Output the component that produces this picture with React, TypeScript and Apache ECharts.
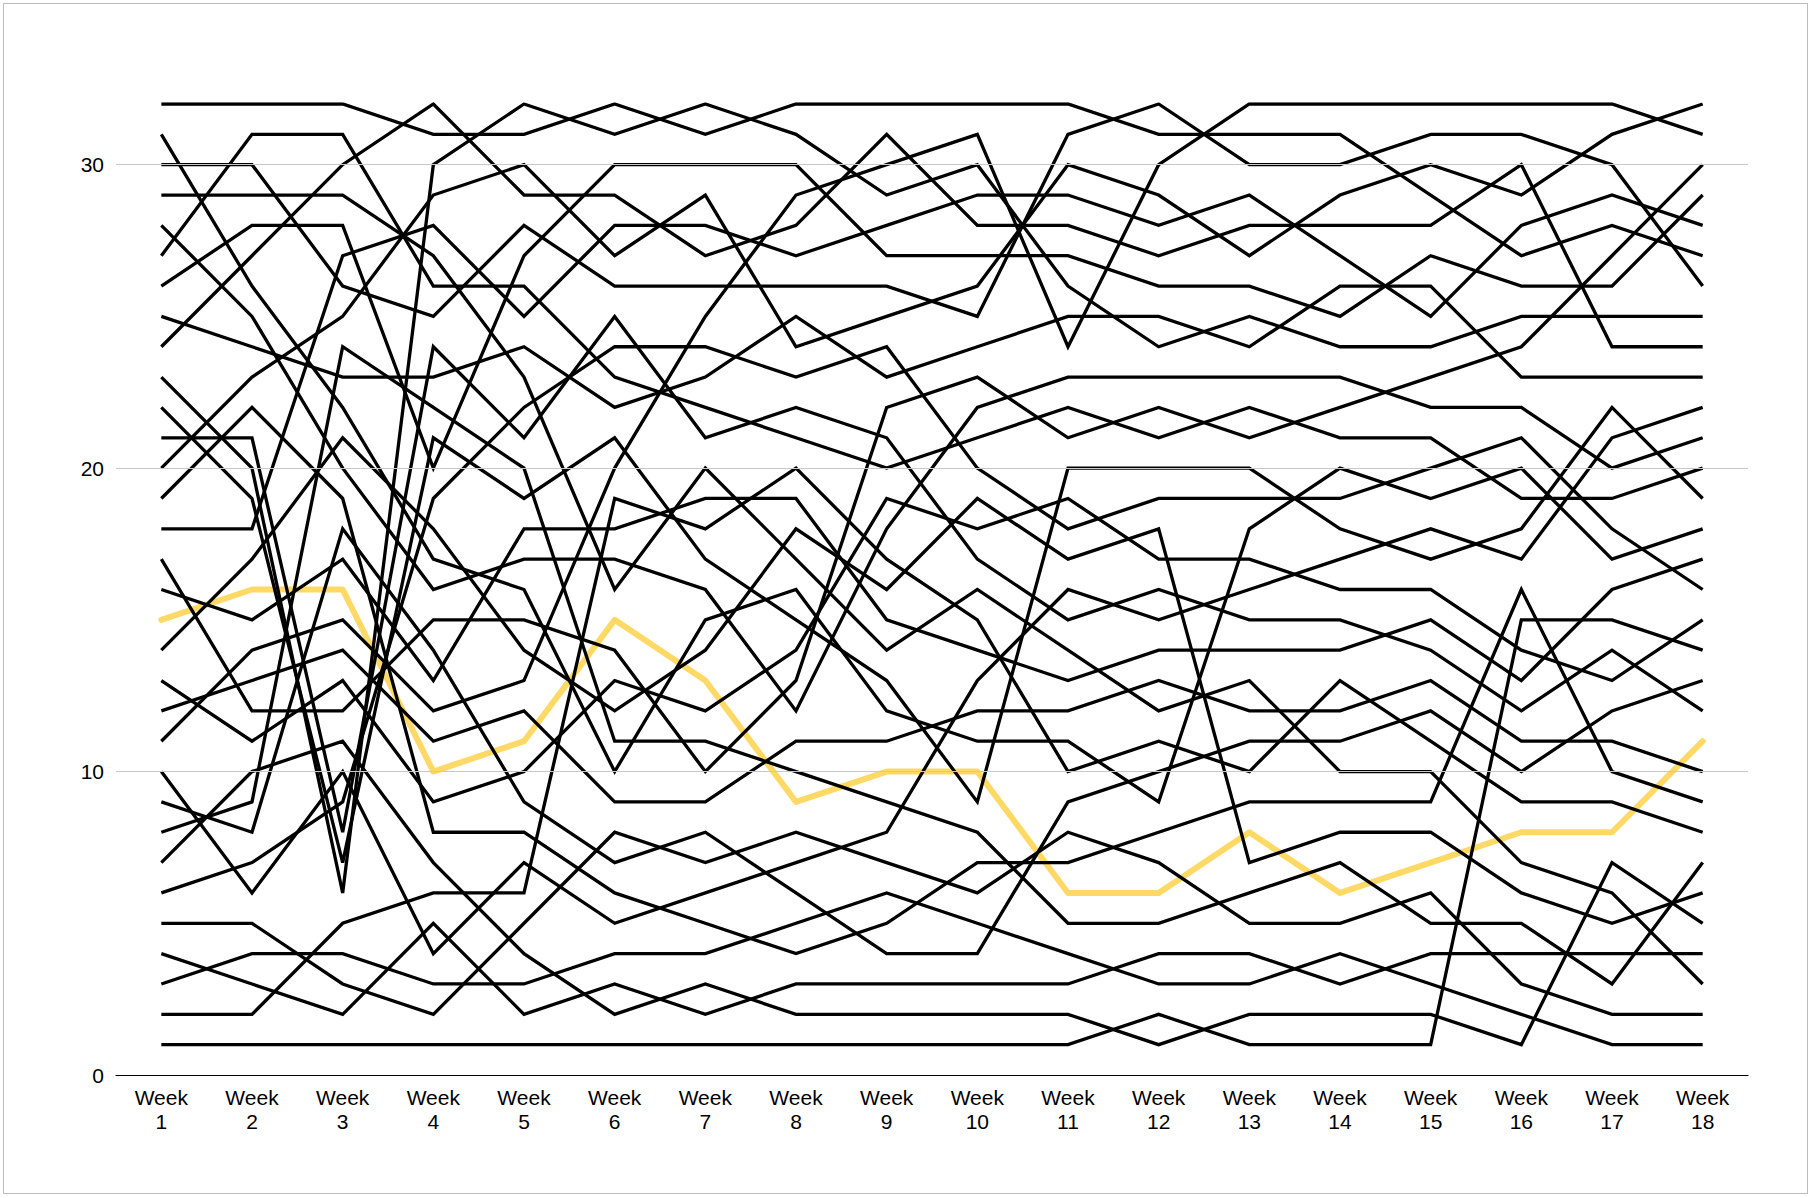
import React, { useEffect, useRef } from "react";
import * as echarts from "echarts";

// Category labels
const weeks: string[] = Array.from({ length: 18 }, (_, i) => `Week\n${i + 1}`);
// Y tick labels
const yTicks: number[] = [0, 10, 20, 30];
// Highlighted (yellow) team is the one ranked 15th in week 1
const highlightStartRank = 15;

// For each pair of consecutive weeks: entry r-1 = rank in the next week of the team ranked r this week.
const week1to2 = [1, 2, 4, 3, 5, 7, 10, 9, 8, 6, 14, 13, 11, 17, 16, 15, 12, 18, 22, 23, 21, 19, 20, 27, 24, 28, 31, 25, 29, 30, 26, 32];
const week2to3 = [1, 5, 2, 4, 3, 10, 9, 18, 24, 11, 13, 12, 14, 15, 17, 16, 21, 27, 7, 6, 8, 19, 25, 23, 20, 22, 30, 28, 29, 26, 31, 32];
const week3to4 = [1, 5, 2, 3, 6, 30, 21, 24, 19, 4, 7, 15, 9, 11, 12, 10, 13, 14, 8, 16, 18, 17, 23, 22, 29, 25, 28, 20, 27, 32, 26, 31];
const week4to5 = [1, 5, 3, 7, 2, 6, 4, 8, 10, 11, 12, 13, 18, 9, 15, 17, 16, 14, 22, 27, 19, 20, 24, 21, 28, 26, 23, 25, 30, 32, 31, 29];
const week5to6 = [1, 3, 4, 2, 8, 19, 5, 6, 7, 13, 15, 9, 20, 12, 14, 10, 17, 18, 21, 11, 25, 24, 16, 22, 28, 23, 30, 26, 29, 27, 32, 31];
const week6to7 = [1, 3, 2, 4, 6, 5, 8, 7, 9, 15, 11, 14, 12, 10, 13, 20, 16, 19, 18, 25, 17, 23, 22, 24, 21, 26, 29, 28, 27, 30, 32, 31];
const week7to8 = [1, 3, 2, 5, 4, 7, 8, 6, 11, 13, 10, 14, 9, 18, 16, 12, 15, 20, 19, 17, 22, 21, 25, 23, 29, 26, 28, 27, 24, 30, 32, 31];
const week8to9 = [1, 2, 3, 5, 6, 4, 8, 7, 10, 9, 11, 18, 22, 19, 13, 12, 14, 16, 15, 17, 20, 21, 24, 25, 23, 26, 28, 31, 30, 27, 29, 32];
const week9to10 = [1, 2, 3, 4, 7, 5, 6, 13, 8, 10, 12, 11, 9, 16, 14, 19, 15, 22, 18, 21, 17, 23, 24, 20, 26, 25, 27, 29, 30, 31, 28, 32];
const week10to11 = [1, 2, 3, 9, 4, 8, 7, 5, 20, 6, 11, 12, 16, 13, 10, 14, 15, 19, 17, 18, 22, 23, 21, 25, 31, 30, 27, 28, 29, 26, 24, 32];
const week11to12 = [2, 1, 4, 3, 5, 6, 8, 7, 10, 11, 9, 13, 14, 12, 16, 15, 18, 19, 17, 20, 22, 21, 23, 30, 25, 24, 26, 27, 28, 29, 32, 31];
const week12to13 = [2, 1, 3, 4, 6, 8, 5, 9, 18, 11, 10, 13, 12, 14, 16, 15, 17, 7, 19, 20, 22, 21, 23, 25, 24, 26, 28, 29, 27, 32, 31, 30];
const week13to14 = [1, 2, 4, 3, 5, 7, 8, 6, 9, 13, 11, 12, 10, 14, 15, 17, 16, 20, 19, 18, 22, 21, 23, 26, 24, 25, 29, 28, 27, 30, 31, 32];
const week14to15 = [1, 2, 4, 3, 6, 7, 5, 8, 9, 10, 12, 13, 11, 15, 14, 16, 18, 17, 20, 19, 21, 23, 22, 24, 27, 26, 25, 28, 30, 31, 29, 32];
const week15to16 = [15, 1, 2, 4, 5, 3, 8, 6, 16, 7, 9, 10, 11, 12, 13, 14, 18, 17, 20, 21, 19, 22, 24, 25, 28, 23, 26, 30, 27, 29, 31, 32];
const week16to17 = [7, 1, 2, 4, 3, 5, 6, 8, 9, 12, 11, 14, 16, 13, 15, 10, 21, 22, 19, 17, 18, 20, 23, 27, 25, 26, 28, 29, 31, 24, 30, 32];
const week17to18 = [1, 2, 7, 4, 6, 3, 5, 11, 8, 9, 10, 13, 15, 12, 14, 17, 18, 16, 20, 21, 22, 19, 23, 24, 25, 29, 30, 27, 28, 26, 32, 31];

const moves: number[][] = [
  week1to2, week2to3, week3to4, week4to5, week5to6, week6to7, week7to8, week8to9, week9to10,
  week10to11, week11to12, week12to13, week13to14, week14to15, week15to16, week16to17, week17to18,
];

function teamPath(startRank: number): number[] {
  const path = [startRank];
  let cur = startRank;
  for (const m of moves) {
    cur = m[cur - 1];
    path.push(cur);
  }
  return path;
}

const FONT = "'Liberation Sans', Arial, Helvetica, sans-serif";

export default function App() {
  const ref = useRef<HTMLDivElement>(null);

  useEffect(() => {
    if (!ref.current) return;
    const chart = echarts.init(ref.current, undefined, { renderer: "svg" });

    const series: any[] = [];
    // gridlines
    series.push({
      type: "line",
      data: [],
      silent: true,
      z: 1,
      markLine: {
        silent: true,
        symbol: ["none", "none"],
        label: { show: false },
        lineStyle: { color: "#c8c8c8", width: 1, type: "solid" },
        data: yTicks.filter((v) => v > 0).map((v) => ({ yAxis: v })),
        animation: false,
      },
    });
    // highlighted team first (drawn beneath the black lines)
    series.push({
      type: "line",
      name: `team${highlightStartRank}`,
      data: teamPath(highlightStartRank),
      symbol: "none",
      z: 2,
      lineStyle: { color: "#FFD966", width: 6, cap: "round", join: "round" },
      silent: true,
    });
    for (let r = 1; r <= 32; r++) {
      if (r === highlightStartRank) continue;
      series.push({
        type: "line",
        name: `team${r}`,
        data: teamPath(r),
        symbol: "none",
        z: 3,
        lineStyle: { color: "#000000", width: 3.3, join: "miter" },
        silent: true,
      });
    }

    chart.setOption({
      animation: false,
      backgroundColor: "#ffffff",
      grid: { left: 116, right: 64, top: 104, bottom: 123 },
      xAxis: {
        type: "category",
        data: weeks,
        boundaryGap: true,
        axisLine: { show: true, lineStyle: { color: "#000", width: 1.2 } },
        axisTick: { show: false },
        axisLabel: {
          interval: 0,
          color: "#000",
          fontSize: 21,
          lineHeight: 24,
          margin: 10,
          fontFamily: FONT,
        },
        splitLine: { show: false },
      },
      yAxis: {
        type: "value",
        min: 0,
        max: 32,
        interval: 10,
        axisLine: { show: false },
        axisTick: { show: false },
        splitLine: { show: false },
        axisLabel: {
          color: "#000",
          fontSize: 21,
          margin: 12,
          fontFamily: FONT,
          showMaxLabel: false,
          formatter: (v: number) => (yTicks.includes(v) ? String(v) : ""),
        },
      },
      series,
    });

    return () => chart.dispose();
  }, []);

  return (
    <div style={{ position: "fixed", left: 0, top: 0, width: 1812, height: 1198, background: "#fff" }}>
      <div ref={ref} style={{ position: "absolute", left: 0, top: 0, width: 1812, height: 1198 }} />
      <div
        style={{
          position: "absolute",
          left: 3,
          top: 3,
          width: 1805,
          height: 1191,
          boxSizing: "border-box",
          border: "1px solid #bdbdbd",
          pointerEvents: "none",
        }}
      />
    </div>
  );
}
